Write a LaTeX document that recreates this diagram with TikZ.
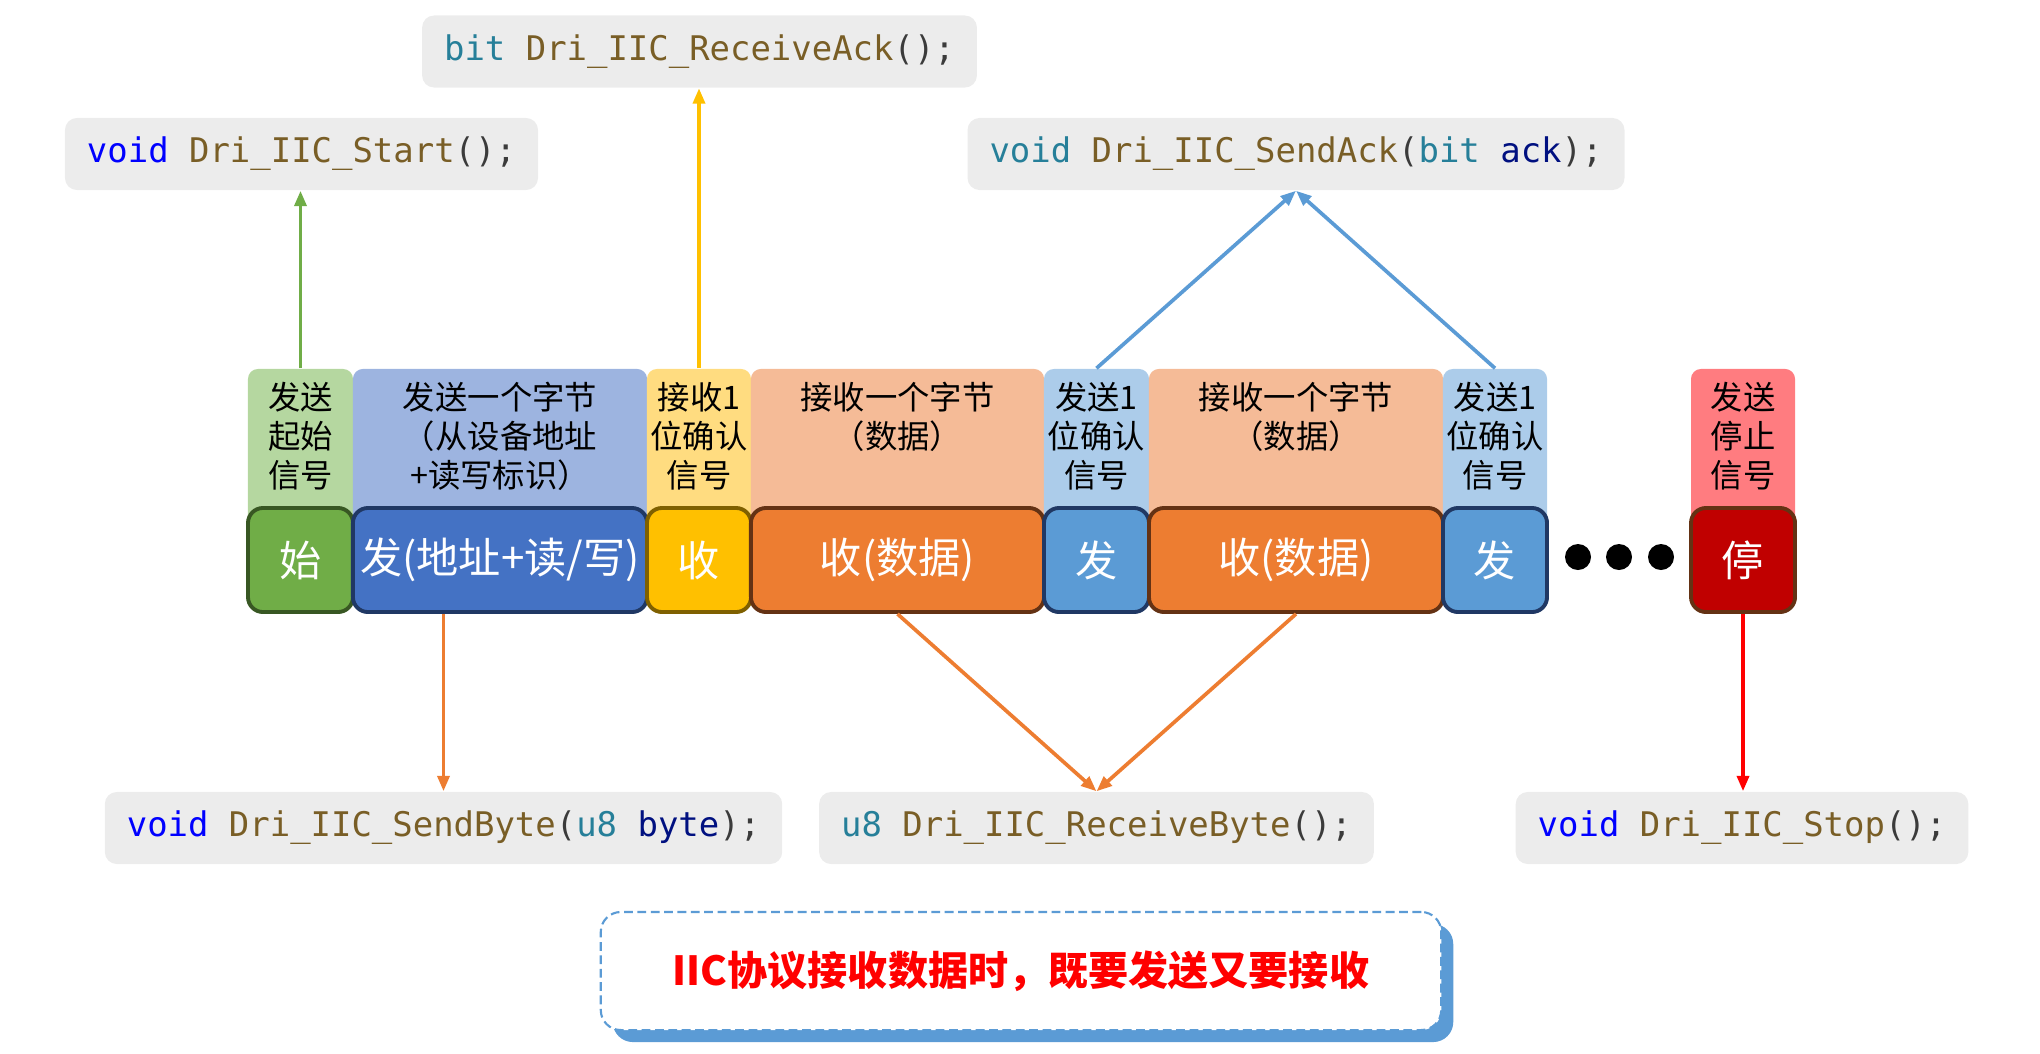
\documentclass[tikz,border=0pt]{standalone}
\usepackage{fontspec}
\usepackage{tikz}
\usetikzlibrary{arrows.meta,positioning,calc,shadows}
\newfontfamily\cjk{Noto Sans CJK SC}
\newfontfamily\codefont{DejaVu Sans Mono}
\definecolor{StartLight}{RGB}{181,215,160}
\definecolor{StartDark}{RGB}{112,173,71}
\definecolor{StartEdge}{RGB}{56,87,35}
\definecolor{AddrLight}{RGB}{157,180,224}
\definecolor{AddrDark}{RGB}{68,114,196}
\definecolor{AddrEdge}{RGB}{32,56,100}
\definecolor{AckLight}{RGB}{255,220,128}
\definecolor{AckDark}{RGB}{255,192,0}
\definecolor{AckEdge}{RGB}{127,96,0}
\definecolor{DataLight}{RGB}{245,187,151}
\definecolor{DataDark}{RGB}{237,125,49}
\definecolor{DataEdge}{RGB}{100,50,20}
\definecolor{SendLight}{RGB}{172,204,234}
\definecolor{SendDark}{RGB}{91,155,213}
\definecolor{SendEdge}{RGB}{32,56,100}
\definecolor{StopLight}{RGB}{255,124,128}
\definecolor{StopDark}{RGB}{192,0,0}
\definecolor{StopEdge}{RGB}{100,50,20}
\definecolor{CodeGray}{RGB}{236,236,236}
\definecolor{KwBlue}{RGB}{0,0,255}
\definecolor{FnBrown}{RGB}{121,94,38}
\definecolor{TypeTeal}{RGB}{38,127,153}
\definecolor{ArgNavy}{RGB}{0,16,128}
\definecolor{PunctGray}{RGB}{59,59,59}
\definecolor{ArrowRed}{RGB}{255,0,0}
\newcommand\kwd[1]{\textcolor{KwBlue}{#1}}
\newcommand\fnn[1]{\textcolor{FnBrown}{#1}}
\newcommand\typ[1]{\textcolor{TypeTeal}{#1}}
\newcommand\argn[1]{\textcolor{ArgNavy}{#1}}
\newcommand\pun[1]{\textcolor{PunctGray}{#1}}
\tikzset{
  strip/.style={rounded corners=0.1cm,minimum height=1.91cm,inner sep=0pt},
  striptext/.style={anchor=north,align=center,inner sep=0pt,font=\cjk\fontsize{9.2}{11.1}\selectfont},
  cell/.style={rounded corners=0.15cm,line width=1.1pt,minimum height=1.04cm,inner sep=0pt,text=white,font=\cjk\fontsize{12}{14}\selectfont},
  codebox/.style={fill=CodeGray,rounded corners=0.12cm,minimum height=0.72cm,inner xsep=0.22cm,font=\codefont\fontsize{9.65}{11}\selectfont},
  conn/.style={-{Triangle[length=4.4pt,width=3.4pt]},line width=1.05pt},
  dot/.style={circle,fill=black,minimum size=0.26cm,inner sep=0pt},
  notebox/.style={draw=SendDark,fill=white,dash pattern=on 2.5pt off 1.3pt,line width=0.6pt,rounded corners=0.2cm,minimum width=8.4cm,minimum height=1.18cm,
    drop shadow={shadow xshift=0.12cm,shadow yshift=-0.12cm,fill=SendDark,opacity=1}}
}
\begin{document}
\begin{tikzpicture}[x=0.01cm,y=0.01cm]
\useasboundingbox (0,0) rectangle (2040,1053);
% light header strips
\node[strip,fill=StartLight,minimum width=1.05cm] (sStart) at (300.5,588.5) {};
\node[strip,fill=AddrLight,minimum width=2.94cm] (sAddr) at (500,588.5) {};
\node[strip,fill=AckLight,minimum width=1.04cm] (sAck) at (699,588.5) {};
\node[strip,fill=DataLight,minimum width=2.93cm] (sData1) at (897.5,588.5) {};
\node[strip,fill=SendLight,minimum width=1.05cm] (sSend1) at (1096.5,588.5) {};
\node[strip,fill=DataLight,minimum width=2.94cm] (sData2) at (1296,588.5) {};
\node[strip,fill=SendLight,minimum width=1.04cm] (sSend2) at (1495,588.5) {};
\node[strip,fill=StopLight,minimum width=1.04cm] (sStop) at (1743,588.5) {};

\node[striptext] (tStart) at ([yshift=-0.13cm]sStart.north) {发送\\起始\\信号};
\node[striptext] (tAddr) at ([yshift=-0.13cm]sAddr.north) {发送一个字节\\（从设备地址\\+读写标识）};
\node[striptext] (tAck) at ([yshift=-0.13cm]sAck.north) {接收1\\位确认\\信号};
\node[striptext] (tData1) at ([yshift=-0.13cm]sData1.north) {接收一个字节\\（数据）};
\node[striptext] (tSend1) at ([yshift=-0.13cm]sSend1.north) {发送1\\位确认\\信号};
\node[striptext] (tData2) at ([yshift=-0.13cm]sData2.north) {接收一个字节\\（数据）};
\node[striptext] (tSend2) at ([yshift=-0.13cm]sSend2.north) {发送1\\位确认\\信号};
\node[striptext] (tStop) at ([yshift=-0.13cm]sStop.north) {发送\\停止\\信号};

% signal cells
\node[cell,fill=StartDark,draw=StartEdge,minimum width=1.05cm] (bStart) at (300.5,493) {始};
\node[cell,fill=AddrDark,draw=AddrEdge,minimum width=2.94cm] (bAddr) at (500,493) {发(地址+读/写)};
\node[cell,fill=AckDark,draw=AckEdge,minimum width=1.04cm] (bAck) at (699,493) {收};
\node[cell,fill=DataDark,draw=DataEdge,minimum width=2.93cm] (bData1) at (897.5,493) {收(数据)};
\node[cell,fill=SendDark,draw=SendEdge,minimum width=1.05cm] (bSend1) at (1096.5,493) {发};
\node[cell,fill=DataDark,draw=DataEdge,minimum width=2.94cm] (bData2) at (1296,493) {收(数据)};
\node[cell,fill=SendDark,draw=SendEdge,minimum width=1.04cm] (bSend2) at (1495,493) {发};
\node[cell,fill=StopDark,draw=StopEdge,minimum width=1.04cm] (bStop) at (1743,493) {停};
\foreach \i/\x in {1/1578,2/1619,3/1661}
  \node[dot] (dot\i) at (\x,496) {};

% function boxes
\node[codebox] (cStart) at (301.5,899) {\kwd{void} \fnn{Dri\_IIC\_Start}\pun{();}};
\node[codebox] (cRecvAck) at (699.5,1001.5) {\typ{bit} \fnn{Dri\_IIC\_ReceiveAck}\pun{();}};
\node[codebox] (cSendAck) at (1296,899) {\typ{void} \fnn{Dri\_IIC\_SendAck}\pun{(}\typ{bit} \argn{ack}\pun{);}};
\node[codebox] (cSendByte) at (443.5,225) {\kwd{void} \fnn{Dri\_IIC\_SendByte}\pun{(}\typ{u8} \argn{byte}\pun{);}};
\node[codebox] (cRecvByte) at (1096.5,225) {\typ{u8} \fnn{Dri\_IIC\_ReceiveByte}\pun{();}};
\node[codebox] (cStop) at (1742,225) {\kwd{void} \fnn{Dri\_IIC\_Stop}\pun{();}};

\draw[conn,draw=StartDark] (sStart.north) -- (sStart.north |- cStart.south);
\draw[conn,draw=AckDark] (sAck.north) -- (sAck.north |- cRecvAck.south);
\draw[conn,draw=SendDark] (sSend1.north) -- (cSendAck.south);
\draw[conn,draw=SendDark] (sSend2.north) -- (cSendAck.south);
\draw[conn,draw=DataDark] (bAddr.south -| cSendByte.north) -- (cSendByte.north);
\draw[conn,draw=DataDark] (bData1.south) -- (cRecvByte.north);
\draw[conn,draw=DataDark] (bData2.south) -- (cRecvByte.north);
\draw[conn,draw=ArrowRed] (bStop.south) -- (bStop.south |- cStop.north);

% note
\node[notebox,text=ArrowRed,font=\cjk\bfseries\fontsize{11.4}{13}\selectfont] (note) at (1021,82) {IIC协议接收数据时，既要发送又要接收};
\end{tikzpicture}
\end{document}
